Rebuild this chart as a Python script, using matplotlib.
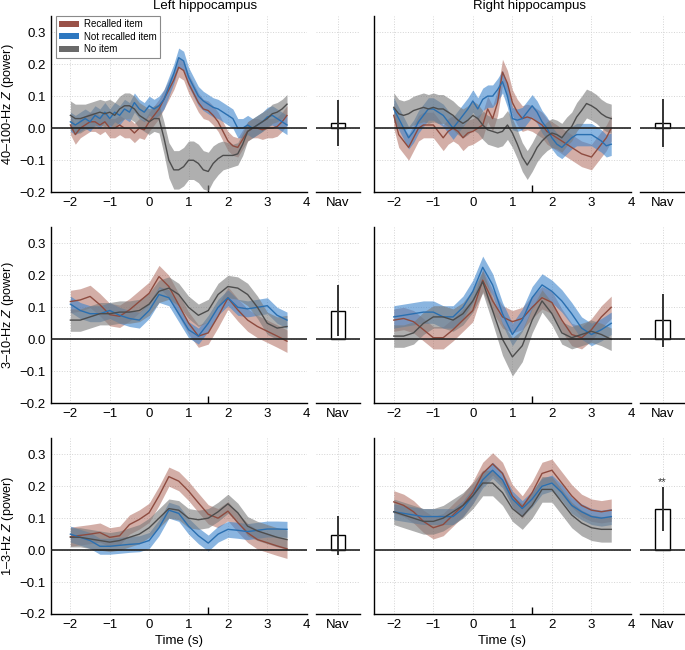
# plot.py
# Hippocampus power time courses (recalled / not recalled / no item) + Nav bars

import numpy as np
import matplotlib
matplotlib.use("Agg")
import matplotlib.pyplot as plt
from matplotlib.patches import Patch
from matplotlib.ticker import FixedLocator

plt.rcParams["font.family"] = ["Liberation Sans", "DejaVu Sans"]
plt.rcParams["mathtext.fontset"] = "custom"
plt.rcParams["mathtext.it"] = "Liberation Sans:italic"
plt.rcParams["mathtext.rm"] = "Liberation Sans"

# ---- data ---------------------------------------------------------------
# top row sampled every 0.125 s, lower rows every 0.25 s (from -2 to 3.5 s)
t_fine = np.arange(-2, 3.5 + 1e-9, 0.125)
t_coarse = np.arange(-2, 3.5 + 1e-9, 0.25)

series_names = ["Recalled item", "Not recalled item", "No item"]
row_labels = ["40–100-Hz $\\mathit{Z}$ (power)", "3–10-Hz $\\mathit{Z}$ (power)",
              "1–3-Hz $\\mathit{Z}$ (power)"]
col_titles = ["Left hippocampus", "Right hippocampus"]
x_ticks = [-2, -1, 0, 1, 2, 3, 4]
x_ticklabels = ["−2", "−1", "0", "1", "2", "3", "4"]
y_ticks = [-0.2, -0.1, 0.0, 0.1, 0.2, 0.3]
y_ticklabels = ["−0.2", "−0.1", "0.0", "0.1", "0.2", "0.3"]
event_times = [0, 1.5]

# 40-100 Hz, left
lt_rec = [0.01, -0.02, 0.0, 0.01, 0.02,
          0.02, 0.01, 0.02, 0.0, 0.0,
          0.01, 0.0, 0.0, -0.015, 0.0,
          -0.005, 0.02, 0.04, 0.06, 0.09,
          0.12, 0.15, 0.19, 0.18, 0.14,
          0.11, 0.08, 0.06, 0.055, 0.04,
          0.02, -0.01, -0.04, -0.055, -0.06,
          -0.035, -0.01, 0.0, 0.0, -0.005,
          0.0, 0.0, 0.005, 0.02, 0.04]
lt_nrec = [0.02, 0.01, 0.02, 0.03, 0.02,
           0.04, 0.03, 0.05, 0.03, 0.05,
           0.04, 0.06, 0.05, 0.08, 0.06,
           0.05, 0.07, 0.06, 0.07, 0.09,
           0.13, 0.17, 0.22, 0.21, 0.16,
           0.13, 0.10, 0.085, 0.075, 0.065,
           0.06, 0.05, 0.04, 0.03, 0.0,
           0.0, 0.01, 0.0, 0.01, 0.02,
           0.035, 0.04, 0.03, 0.02, 0.01]
lt_none = [0.04, 0.03, 0.03, 0.035, 0.04,
           0.045, 0.05, 0.045, 0.05, 0.04,
           0.06, 0.07, 0.07, 0.06, 0.04,
           0.03, 0.02, 0.03, 0.03, -0.03,
           -0.10, -0.13, -0.13, -0.12, -0.10,
           -0.10, -0.11, -0.13, -0.135, -0.11,
           -0.095, -0.085, -0.085, -0.085, -0.08,
           -0.05, -0.01, 0.0, 0.01, 0.02,
           0.03, 0.045, 0.05, 0.06, 0.075]
lt_rec_err = 0.03
lt_nrec_err = 0.03
lt_none_err = [0.045, 0.045, 0.045, 0.04, 0.04,
               0.04, 0.04, 0.04, 0.04, 0.04,
               0.04, 0.04, 0.04, 0.04, 0.04,
               0.04, 0.04, 0.04, 0.045, 0.05,
               0.055, 0.06, 0.06, 0.06, 0.06,
               0.06, 0.06, 0.06, 0.06, 0.055,
               0.05, 0.045, 0.04, 0.035, 0.035,
               0.035, 0.03, 0.03, 0.03, 0.03,
               0.03, 0.03, 0.03, 0.03, 0.03]

# 40-100 Hz, right
rt_rec = [0.04, -0.02, -0.04, -0.06, -0.03,
          0.0, 0.01, 0.01, 0.01, -0.01,
          -0.03, -0.01, 0.0, -0.01, -0.03,
          -0.015, -0.01, 0.0, 0.01, 0.06,
          0.03, 0.08, 0.175, 0.14, 0.08,
          0.05, 0.03, 0.035, 0.03, 0.02,
          0.01, -0.01, -0.02, -0.03, -0.04,
          -0.05, -0.06, -0.07, -0.08, -0.085,
          -0.09, -0.07, -0.05, -0.03, 0.0]
rt_nrec = [0.06, 0.03, 0.0, -0.03, -0.01,
           0.02, 0.04, 0.06, 0.06, 0.05,
           0.04, 0.02, 0.0, 0.02, 0.04,
           0.06, 0.085, 0.06, 0.09, 0.10,
           0.10, 0.12, 0.145, 0.10, 0.03,
           0.025, 0.03, 0.05, 0.07, 0.05,
           0.02, 0.0, -0.03, -0.05, -0.06,
           -0.045, -0.03, -0.02, -0.02, -0.02,
           -0.02, -0.03, -0.04, -0.055, -0.05]
rt_none = [0.065, 0.045, 0.04, 0.045, 0.055,
           0.06, 0.065, 0.06, 0.065, 0.06,
           0.06, 0.05, 0.04, 0.025, 0.015,
           0.025, 0.04, 0.03, 0.01, -0.005,
           -0.01, -0.015, -0.01, 0.01, -0.015,
           -0.05, -0.09, -0.115, -0.09, -0.06,
           -0.04, -0.025, -0.015, -0.02, -0.03,
           -0.01, 0.005, 0.035, 0.055, 0.077,
           0.07, 0.06, 0.045, 0.035, 0.03]
rt_rec_err = 0.04
rt_nrec_err = 0.035
rt_none_err = 0.045

# 3-10 Hz
lm_rec = [0.118, 0.123, 0.134, 0.108, 0.077, 0.072, 0.092, 0.118, 0.144, 0.196,
          0.165, 0.108, 0.051, 0.01, 0.02, 0.072, 0.129, 0.092, 0.06, 0.04,
          0.025, 0.01, -0.006]
lm_nrec = [0.11, 0.09, 0.08, 0.08, 0.09, 0.075, 0.065, 0.06, 0.09, 0.14,
           0.13, 0.08, 0.03, 0.01, 0.05, 0.10, 0.13, 0.10, 0.095, 0.10,
           0.105, 0.075, 0.06]
lm_none = [0.06, 0.06, 0.07, 0.08, 0.08, 0.085, 0.085, 0.09, 0.11, 0.15,
           0.16, 0.14, 0.10, 0.075, 0.09, 0.14, 0.165, 0.16, 0.14, 0.10,
           0.05, 0.035, 0.04]
lm_rec_err = 0.035
lm_nrec_err = 0.025
lm_none_err = 0.035

rm_rec = [0.06, 0.065, 0.055, 0.03, 0.005, 0.005, 0.03, 0.06, 0.09, 0.185,
          0.12, 0.07, 0.055, 0.065, 0.10, 0.13, 0.115, 0.06, 0.015, 0.005,
          0.03, 0.07, 0.10]
rm_nrec = [0.07, 0.075, 0.08, 0.085, 0.085, 0.07, 0.07, 0.10, 0.15, 0.225,
           0.17, 0.08, 0.015, 0.06, 0.13, 0.17, 0.15, 0.12, 0.08, 0.035,
           0.015, 0.03, 0.05]
rm_none = [0.01, 0.01, 0.02, 0.05, 0.07, 0.07, 0.06, 0.08, 0.12, 0.18,
           0.09, 0.0, -0.055, -0.02, 0.06, 0.12, 0.08, 0.02, 0.005, 0.015,
           0.025, 0.015, 0.0]
rm_rec_err = 0.035
rm_nrec_err = 0.035
rm_none_err = [0.035, 0.035, 0.035, 0.035, 0.035, 0.035, 0.035, 0.035, 0.035, 0.035,
               0.04, 0.05, 0.06, 0.05, 0.04, 0.035, 0.035, 0.035, 0.035, 0.035,
               0.035, 0.035, 0.035]

# 1-3 Hz
lb_rec = [0.042, 0.046, 0.05, 0.055, 0.04, 0.045, 0.08, 0.096, 0.117, 0.17,
          0.23, 0.216, 0.185, 0.148, 0.112, 0.10, 0.122, 0.086, 0.054, 0.033,
          0.023, 0.013, 0.004]
lb_nrec = [0.05, 0.04, 0.03, 0.012, 0.012, 0.015, 0.018, 0.02, 0.03, 0.07,
           0.125, 0.115, 0.075, 0.045, 0.022, 0.05, 0.065, 0.062, 0.058, 0.062,
           0.066, 0.066, 0.065]
lb_none = [0.04, 0.04, 0.035, 0.03, 0.025, 0.03, 0.04, 0.05, 0.07, 0.10,
           0.13, 0.125, 0.10, 0.095, 0.10, 0.12, 0.145, 0.117, 0.075, 0.06,
           0.05, 0.04, 0.033]
lb_rec_err = 0.03
lb_nrec_err = 0.025
lb_none_err = 0.03

rb_rec = [0.151, 0.14, 0.12, 0.09, 0.07, 0.08, 0.11, 0.14, 0.18, 0.24,
          0.27, 0.24, 0.17, 0.135, 0.18, 0.24, 0.25, 0.21, 0.17, 0.14,
          0.125, 0.12, 0.125]
rb_nrec = [0.12, 0.115, 0.11, 0.105, 0.105, 0.105, 0.105, 0.13, 0.17, 0.22,
           0.25, 0.22, 0.16, 0.13, 0.16, 0.20, 0.21, 0.18, 0.14, 0.12,
           0.105, 0.10, 0.105]
rb_none = [0.12, 0.11, 0.10, 0.09, 0.09, 0.10, 0.12, 0.14, 0.17, 0.21,
           0.21, 0.18, 0.13, 0.105, 0.14, 0.19, 0.19, 0.15, 0.11, 0.085,
           0.07, 0.065, 0.065]
rb_rec_err = 0.035
rb_nrec_err = 0.025
rb_none_err = 0.04

# Nav bars: mean and error, per row (left, right)
nav_mean_left = [0.016, 0.09, 0.046]
nav_err_left = [0.072, 0.08, 0.062]
nav_mean_right = [0.016, 0.06, 0.128]
nav_err_right = [0.074, 0.083, 0.068]
nav_stars_right = ["", "", "**"]

# ---- style --------------------------------------------------------------
line_colors = ["#8e4b3f", "#2a6fb0", "#4d4d4d"]
band_colors = ["#a85e50", "#3d84cc", "#7a7a7a"]
band_alpha = [0.5, 0.6, 0.6]
legend_colors = ["#9a5248", "#2e78c0", "#6a6a6a"]

W, H = 685, 650
col_main = [(50.7, 306.7), (374, 631)]
col_nav = [(316, 360), (640, 685)]
row_y = [(16, 192.3), (227.3, 403.3), (438.3, 614)]
FS = 9.5


def rect(x0, x1, y0, y1):
    return [x0 / W, 1 - y1 / H, (x1 - x0) / W, (y1 - y0) / H]


panels = [
    [(t_fine, [lt_rec, lt_nrec, lt_none], [lt_rec_err, lt_nrec_err, lt_none_err]),
     (t_fine, [rt_rec, rt_nrec, rt_none], [rt_rec_err, rt_nrec_err, rt_none_err])],
    [(t_coarse, [lm_rec, lm_nrec, lm_none], [lm_rec_err, lm_nrec_err, lm_none_err]),
     (t_coarse, [rm_rec, rm_nrec, rm_none], [rm_rec_err, rm_nrec_err, rm_none_err])],
    [(t_coarse, [lb_rec, lb_nrec, lb_none], [lb_rec_err, lb_nrec_err, lb_none_err]),
     (t_coarse, [rb_rec, rb_nrec, rb_none], [rb_rec_err, rb_nrec_err, rb_none_err])],
]
nav_means = [nav_mean_left, nav_mean_right]
nav_errs = [nav_err_left, nav_err_right]

fig = plt.figure(figsize=(W / 100, H / 100), dpi=100)

for r in range(3):
    y0, y1 = row_y[r]
    for c in range(2):
        t, means, errs = panels[r][c]
        ax = fig.add_axes(rect(*col_main[c], y0, y1))
        for k in range(3):
            m = np.asarray(means[k])
            e = np.asarray(errs[k])
            ax.fill_between(t, m - e, m + e, color=band_colors[k],
                            alpha=band_alpha[k], lw=0, zorder=2)
        for k in range(3):
            ax.plot(t, means[k], color=line_colors[k], lw=1.0, zorder=3)
        ax.axhline(0, color="#222222", lw=1.2, zorder=4)

        ax.set_xlim(-2.5, 4)
        ax.set_ylim(-0.2, 0.35)
        ax.set_xticks(x_ticks)
        ax.set_xticklabels(x_ticklabels)
        ax.set_yticks(y_ticks)
        if c == 0:
            ax.set_yticklabels(y_ticklabels)
            ax.set_ylabel(row_labels[r], fontsize=9.2)
            # right edge of the rotated label ~16 px from the figure edge
            ax.yaxis.set_label_coords(-0.135, 0.5)
        else:
            ax.set_yticklabels([])
        ax.xaxis.set_minor_locator(FixedLocator(event_times))
        ax.tick_params(which="major", length=0, labelsize=FS, pad=3.5)
        ax.tick_params(axis="x", which="minor", direction="in", length=5,
                       width=1, color="black")
        ax.grid(True, color="#d4d4d4", ls=":", lw=0.7)
        ax.set_axisbelow(True)
        for s in ["top", "right"]:
            ax.spines[s].set_visible(False)
        for s in ["left", "bottom"]:
            ax.spines[s].set_linewidth(1.0)
            ax.spines[s].set_color("black")
        if r == 2:
            ax.set_xlabel("Time (s)", fontsize=FS, labelpad=3)
        if r == 0 and c == 0:
            handles = [Patch(facecolor=legend_colors[k], edgecolor="none")
                       for k in range(3)]
            leg = ax.legend(handles, series_names, loc="upper left",
                            bbox_to_anchor=(0.02, 1.0), borderaxespad=0,
                            fontsize=7, handlelength=2.0, handleheight=0.55,
                            labelspacing=0.25, handletextpad=0.5,
                            borderpad=0.35, fancybox=False, framealpha=1)
            leg.get_frame().set_edgecolor("#8a8a8a")
            leg.get_frame().set_linewidth(0.8)
            leg.set_zorder(10)

        # Nav bar panel
        nx = fig.add_axes(rect(*col_nav[c], y0, y1))
        mval = nav_means[c][r]
        eval_ = nav_errs[c][r]
        nx.bar(0.5, mval, width=0.32, facecolor="white", edgecolor="black",
               lw=1.0, zorder=3)
        nx.vlines(0.5, mval - eval_, mval + eval_, color="#333333", lw=1.4,
                  zorder=4)
        nx.axhline(0, color="#222222", lw=1.2, zorder=4)
        if c == 1 and nav_stars_right[r]:
            nx.text(0.5, mval + eval_ + 0.002, nav_stars_right[r], ha="center",
                    va="bottom", fontsize=8, color="#333333")
        nx.set_xlim(0, 1)
        nx.set_ylim(-0.2, 0.35)
        nx.set_xticks([0.5])
        nx.set_xticklabels(["Nav"])
        nx.set_yticks(y_ticks)
        nx.set_yticklabels([])
        nx.tick_params(which="major", length=0, labelsize=FS, pad=3.5)
        nx.grid(True, color="#d4d4d4", ls=":", lw=0.7)
        nx.set_axisbelow(True)
        for s in ["top", "right", "left"]:
            nx.spines[s].set_visible(False)
        nx.spines["bottom"].set_linewidth(1.0)

fig.text(205 / W, 1 - 6.5 / H, col_titles[0], ha="center", va="center",
         fontsize=FS)
fig.text(529.5 / W, 1 - 6.5 / H, col_titles[1], ha="center", va="center",
         fontsize=FS)

fig.savefig("out.png", dpi=100)
